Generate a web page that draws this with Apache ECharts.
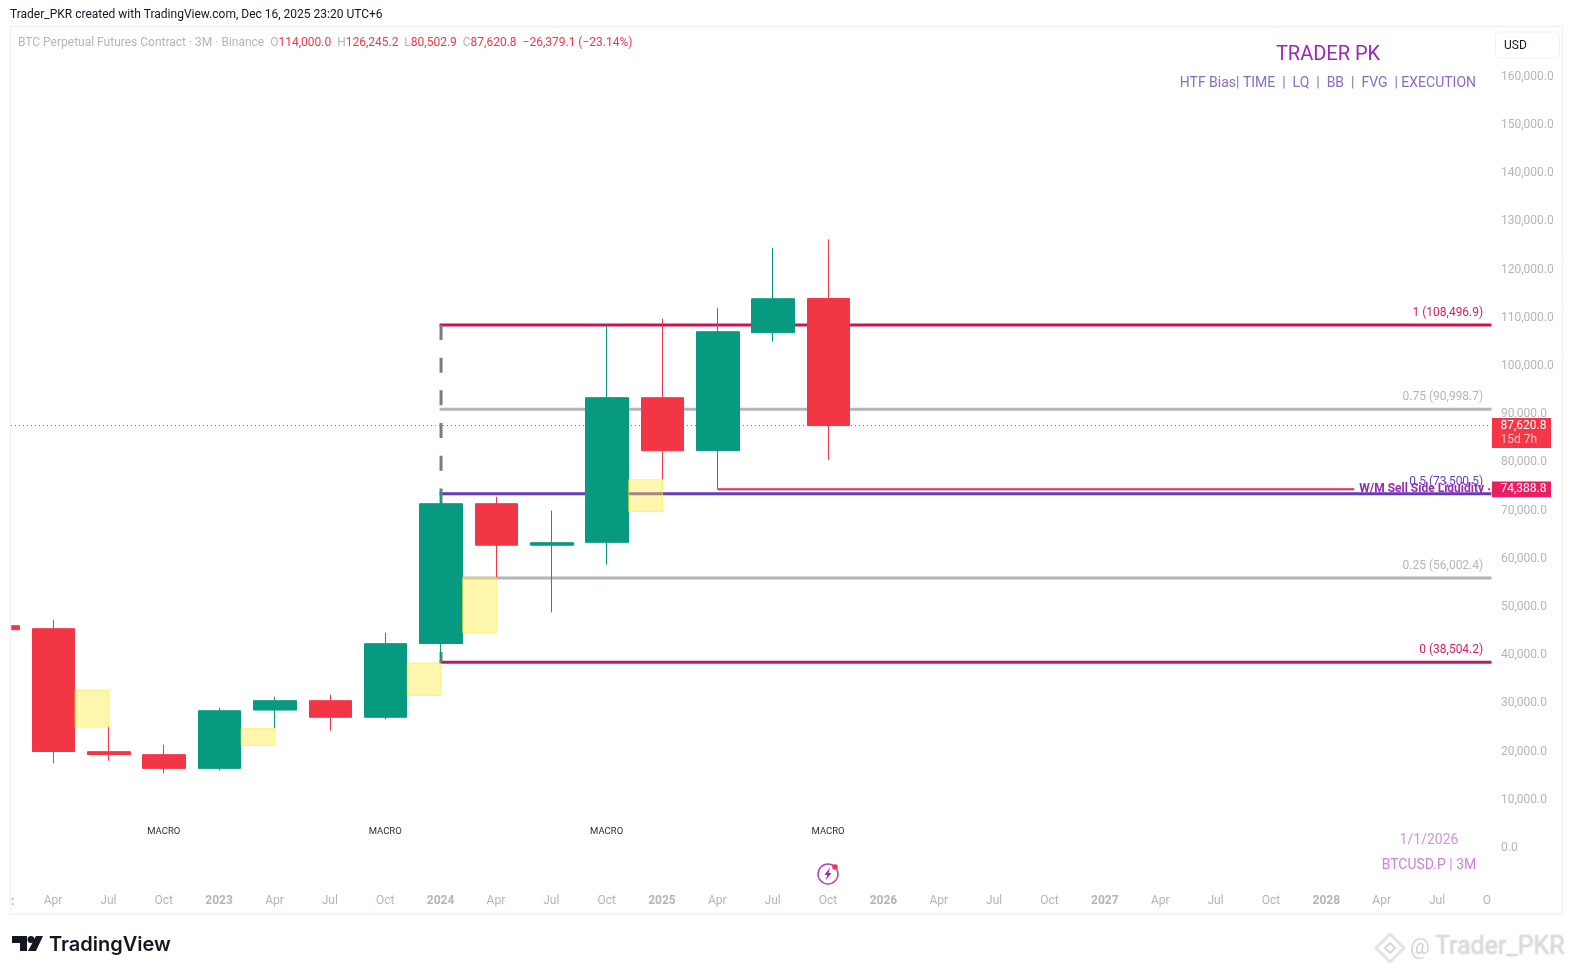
<!DOCTYPE html>
<html><head><meta charset="utf-8">
<style>html,body{margin:0;padding:0;background:#fff}#c{width:1573px;height:974px}</style>
<script src="https://cdn.jsdelivr.net/npm/echarts@6/dist/echarts.min.js"></script>
</head><body><div id="c"></div>
<script>
// quarter index: 0 = Q1 2022
const candleIndex=[0,1,2,3,4,5,6,7,8,9,10,11,12,13,14,15];
const opens =[46100,45480,19960,19340,16500,28600,30540,27100,42400,71410,62800,63400,93400,82400,106890,114000];
const closes=[45270,20000,19350,16500,28460,30540,27100,42370,71410,62800,63320,93400,82400,107090,113940,87620.8];
const lows  =[44000,17530,18090,15460,16100,24790,24310,26660,38504,56120,48860,58760,76400,74388.8,105020,80502.9];
const highs =[47000,47340,25150,21410,29090,31370,31780,44650,73900,72860,69960,108340,109800,112070,124520,126245.2];

const fibLevels=['1','0.75','0.5','0.25','0'];
const fibValues=[108496.9,90998.7,73500.5,56002.4,38504.2];
const fibLineColors=['#c2185b','#b2b5be','#673ab7','#b2b5be','#c2185b'];
const fibTextColors=['#d81b60','#b2b5be','#673ab7','#b2b5be','#d81b60'];
const fibStart=8;

const fvgStart=[1,4,7,8,11];
const fvgTop=[32760,24730,38360,56120,76390];
const fvgBottom=[25080,21270,31640,44650,69810];

const macroIndex=[3,7,11,15];
const macroValue=3300;
const lastPrice=87620.8;
const liquidityPrice=74388.8;
const liquidityStart=13;
const liquidityGapFrom=24.495;
const liquidityGapTo=26.916;

const xTickIndex=[1,2,3,4,5,6,7,8,9,10,11,12,13,14,15,16,17,18,19,20,21,22,23,24,25,26,26.9];
const xTickLabels=['Apr','Jul','Oct','2023','Apr','Jul','Oct','2024','Apr','Jul','Oct','2025','Apr','Jul','Oct','2026','Apr','Jul','Oct','2027','Apr','Jul','Oct','2028','Apr','Jul','O'];
const yTickValues=[0,10000,20000,30000,40000,50000,60000,70000,80000,90000,100000,110000,120000,130000,140000,150000,160000];

const xMin=0.2319,xMax=26.948,yMin=-6805,yMax=169960;
const UP='#089981',DOWN='#f23645',GREY='#b2b5be',FONT='Roboto';
const money=v=>v.toLocaleString('en-US',{minimumFractionDigits:1,maximumFractionDigits:1});

const chart=echarts.init(document.getElementById('c'),null,{renderer:'canvas'});

const fibSeries=fibValues.map((v,k)=>({
  type:'line',name:'fib '+fibLevels[k],z:2,silent:true,symbol:'none',animation:false,
  data:[[fibStart,v],[xMax,v]],
  lineStyle:{color:fibLineColors[k],width:3,cap:'square'}
}));

chart.setOption({
  animation:false,
  backgroundColor:'#fff',
  textStyle:{fontFamily:FONT},
  grid:{left:11,right:83,top:28.7,height:852,containLabel:false},
  xAxis:{type:'value',min:xMin,max:xMax,splitLine:{show:false},axisLine:{show:false,onZero:false},axisTick:{show:false},
    axisLabel:{customValues:xTickIndex,margin:14.5,fontSize:12,fontFamily:FONT,color:GREY,hideOverlap:false,padding:[0,1,0,0],
      formatter:v=>{const s=xTickLabels[xTickIndex.indexOf(v)]||'';return /^\d/.test(s)?'{y|'+s+'}':s;},
      rich:{y:{fontWeight:'bold',fontSize:12,color:GREY,fontFamily:FONT}}}},
  yAxis:{type:'value',position:'right',min:yMin,max:yMax,splitLine:{show:false},axisLine:{show:false},axisTick:{show:false},
    axisLabel:{customValues:yTickValues,margin:11,fontSize:12,fontFamily:FONT,color:GREY,formatter:money}},
  series:[
    ...fibSeries,
    {type:'line',name:'range',z:2,silent:true,symbol:'none',
      data:[[fibStart,fibValues[0]],[fibStart,fibValues[4]]],
      lineStyle:{color:'#787b86',width:3,type:[15,17.7]}},
    {type:'candlestick',name:'BTC',z:3,barWidth:43,clip:true,silent:true,
      encode:{x:0,y:[1,2,3,4]},
      data:candleIndex.map((x,k)=>[x,opens[k],closes[k],lows[k],highs[k]]),
      itemStyle:{color:UP,color0:DOWN,borderColor:UP,borderColor0:DOWN,borderWidth:1}},
    {type:'custom',name:'FVG',z:4,silent:true,clip:true,
      encode:{x:0,y:[1,2]},
      data:fvgStart.map((x,k)=>[x,fvgTop[k],fvgBottom[k]]),
      renderItem:(p,api)=>{
        const a=api.coord([api.value(0)+0.389,api.value(1)]),b=api.coord([api.value(0)+1,api.value(2)]);
        return {type:'rect',shape:{x:a[0],y:a[1],width:b[0]-a[0],height:b[1]-a[1]},
          style:{fill:'rgba(255,235,59,0.42)',stroke:'rgba(255,235,59,0.6)',lineWidth:1}};
      }},
    {type:'line',name:'last',z:5,silent:true,symbol:'none',
      data:[[xMin,lastPrice],[xMax,lastPrice]],
      lineStyle:{color:DOWN,width:1,type:[1,3]}},
    {type:'line',name:'liq a',z:5,silent:true,symbol:'none',
      data:[[liquidityStart,liquidityPrice],[liquidityGapFrom,liquidityPrice]],
      lineStyle:{color:'#e91e63',width:2}},
    {type:'line',name:'liq b',z:5,silent:true,symbol:'none',
      data:[[liquidityGapTo,liquidityPrice],[xMax,liquidityPrice]],
      lineStyle:{color:'#e91e63',width:2}},
    {type:'custom',name:'fib text',z:6,silent:true,
      data:fibValues.map((v,k)=>[xMax,v,k]),encode:{x:0,y:1},
      renderItem:(p,api)=>{
        const c=api.coord([api.value(0),api.value(1)]),k=api.value(2);
        return {type:'text',x:c[0]-6.8,y:c[1]-12,style:{text:fibLevels[k]+' ('+money(fibValues[k])+')',fill:fibTextColors[k],
          font:'12px Roboto',align:'right',verticalAlign:'middle'}};
      }},
    {type:'custom',name:'liq text',z:7,silent:true,data:[[xMax,liquidityPrice]],encode:{x:0,y:1},
      renderItem:(p,api)=>{
        const c=api.coord([api.value(0),api.value(1)]);
        return {type:'text',x:c[0]-6,y:c[1],style:{text:'W/M Sell Side Liquidity',fill:'#9c27b0',
          font:'bold 12px Roboto',align:'right',verticalAlign:'middle'}};
      }},
    {type:'custom',name:'macro',z:6,silent:true,
      data:macroIndex.map(i=>[i,macroValue]),encode:{x:0,y:1},
      renderItem:(p,api)=>{
        const c=api.coord([api.value(0),api.value(1)]);
        return {type:'text',x:c[0]-0.5,y:c[1],style:{text:'MACRO',fill:'#2a2e39',font:'9.5px Roboto',align:'center',verticalAlign:'middle'}};
      }},
    {type:'custom',name:'tags',z:8,silent:true,clip:false,
      data:[[xMax,lastPrice,0],[xMax,liquidityPrice,1]],encode:{x:0,y:1},
      renderItem:(p,api)=>{
        const c=api.coord([api.value(0),api.value(1)]),v=api.value(1),two=api.value(2)===0;
        const x=c[0]+2,w=59;
        const kids=[{type:'rect',shape:{x:x,y:c[1]-(two?7.6:7.8),width:w,height:two?30:15.7},style:{fill:two?'#f43647':'#e91e63'}},
          {type:'text',x:x+8.5,y:c[1],style:{text:money(v),fill:'#fff',font:'12px Roboto',align:'left',verticalAlign:'middle'}}];
        if(two)kids.push({type:'text',x:x+8.5,y:c[1]+14,style:{text:'15d 7h',fill:'rgba(255,255,255,0.72)',font:'12px Roboto',align:'left',verticalAlign:'middle'}});
        return {type:'group',children:kids};
      }}
  ],
  graphic:[
    {type:'rect',silent:true,z:100,shape:{x:0,y:27,width:10,height:886},style:{fill:'#fff'}},
    {type:'rect',silent:true,z:101,shape:{x:10.5,y:26.5,width:1552,height:887.5},style:{fill:'none',stroke:'#f0f1f4',lineWidth:1.5}},
    {type:'text',silent:true,x:10,y:15,style:{text:'Trader_PKR created with TradingView.com, Dec 16, 2025 23:20 UTC+6',fill:'#131722',font:'12px Roboto',verticalAlign:'middle'}},
    {type:'text',silent:true,x:18,y:43,style:{fill:GREY,font:'12px Roboto',verticalAlign:'middle',
      text:'{g|BTC Perpetual Futures Contract · 3M · Binance}  {g|O}{r|114,000.0}  {g|H}{r|126,245.2}  {g|L}{r|80,502.9}  {g|C}{r|87,620.8}  {r|−26,379.1 (−23.14%)}',
      rich:{g:{fill:GREY,font:'12px Roboto'},r:{fill:DOWN,font:'12px Roboto'}}}},
    {type:'text',silent:true,x:1328,y:55,style:{text:'TRADER PK',fill:'#9c27b0',font:'20px Roboto',align:'center',verticalAlign:'middle'}},
    {type:'text',silent:true,x:1476,y:83,style:{text:'HTF Bias| TIME  |  LQ  |  BB  |  FVG  | EXECUTION',fill:'#8a6cc6',font:'14px Roboto',align:'right',verticalAlign:'middle'}},
    {type:'rect',silent:true,shape:{x:1495.5,y:32,width:64,height:26,r:4},style:{fill:'#fff',stroke:'#f0f1f4',lineWidth:1}},
    {type:'text',silent:true,x:1504,y:46,style:{text:'USD',fill:'#131722',font:'12px Roboto',verticalAlign:'middle'}},
    {type:'text',silent:true,x:1429,y:840.5,style:{text:'1/1/2026',fill:'#ce93d8',font:'14px Roboto',align:'center',verticalAlign:'middle'}},
    {type:'text',silent:true,x:1429,y:865,style:{text:'BTCUSD.P | 3M',fill:'#ce7fd8',font:'14px Roboto',align:'center',verticalAlign:'middle'}},
    {type:'text',silent:true,x:11,y:902,style:{text:':',fill:GREY,font:'bold 12px Roboto',verticalAlign:'middle'}},
    // event icon
    {type:'circle',silent:true,shape:{cx:828,cy:874,r:10},style:{fill:'none',stroke:'#ab47bc',lineWidth:1.5}},
    {type:'polygon',silent:true,shape:{points:[[830,867.5],[824.5,875],[827.5,875],[825.5,880.5],[831.5,873],[828.5,873]]},style:{fill:'#9c27b0'}},
    {type:'circle',silent:true,shape:{cx:835,cy:867,r:2.8},style:{fill:'#f23645'}},
    // logo
    {type:'polygon',silent:true,shape:{points:[[12,936],[27,936],[27,951],[20,951],[20,943],[12,943]]},style:{fill:'#131722'}},
    {type:'circle',silent:true,shape:{cx:31,cy:939.5,r:3.5},style:{fill:'#131722'}},
    {type:'polygon',silent:true,shape:{points:[[36,936],[43,936],[36,951],[28,951]]},style:{fill:'#131722'}},
    {type:'text',silent:true,x:49,y:945,style:{text:'TradingView',fill:'#131722',font:'600 20px Inter',verticalAlign:'middle'}},
    // watermark
    {type:'polygon',silent:true,shape:{points:[[1390,934],[1404,948],[1390,962],[1376,948]]},style:{fill:'none',stroke:'#e3e3e6',lineWidth:3}},
    {type:'polygon',silent:true,shape:{points:[[1390,943],[1395,948],[1390,953],[1385,948]]},style:{fill:'none',stroke:'#d8d8dc',lineWidth:2}},
    {type:'text',silent:true,x:1410,y:948,style:{text:'@',fill:'#d4d4d8',font:'22px Roboto',verticalAlign:'middle'}},
    {type:'text',silent:true,x:1435,y:948,style:{text:'Trader_PKR',fill:'#dcdce0',font:'25px Roboto',verticalAlign:'middle',textShadowColor:'rgba(0,0,0,0.2)',textShadowBlur:2}}
  ]
});
</script></body></html>
